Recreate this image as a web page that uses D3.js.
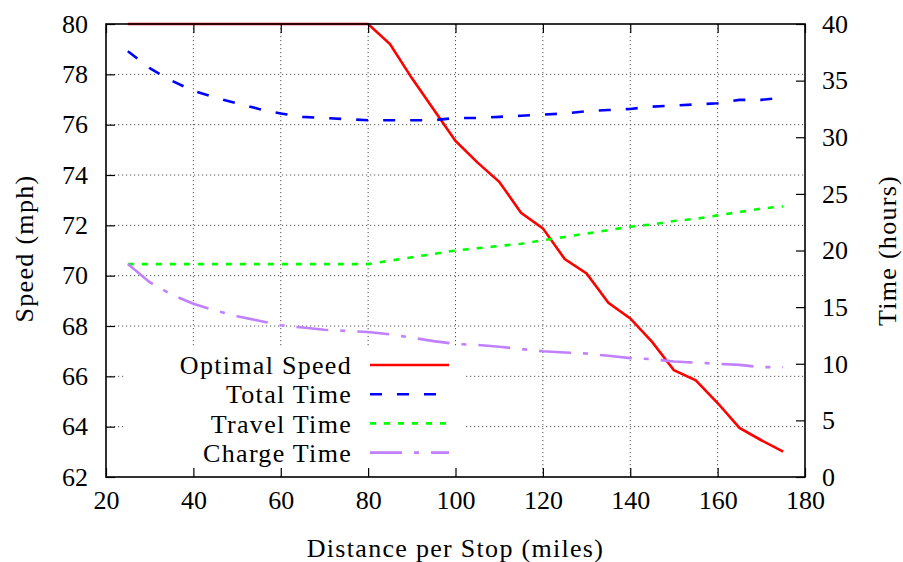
<!DOCTYPE html>
<html>
<head>
<meta charset="utf-8">
<script src="https://d3js.org/d3.v7.min.js"></script>
<style>
  body { margin: 0; background: #fff; }
  svg text { font-family: "Liberation Serif", "Times New Roman", "DejaVu Serif", serif; }
  .wide { letter-spacing: 1.3px; }
</style>
</head>
<body>
<div id="chart"></div>
<script>
// distance per stop (miles)
const distance = [25, 30, 35, 40, 45, 50, 55, 60, 65, 70, 75, 80, 85, 90, 95, 100,
  105, 110, 115, 120, 125, 130, 135, 140, 145, 150, 155, 160, 165, 170, 175];
// left axis, mph
const optimalSpeed = [80, 80, 80, 80, 80, 80, 80, 80, 80, 80, 80, 80, 79.2, 77.85, 76.6, 75.35,
  74.5, 73.73, 72.5, 71.88, 70.66, 70.09, 68.92, 68.3, 67.37, 66.24, 65.84, 64.94, 63.95, 63.46, 63.01];
// right axis, hours
const totalTime = [37.6, 36.1, 35.0, 34.1, 33.5, 33.0, 32.5, 32.1, 31.8, 31.7, 31.6, 31.5, 31.5, 31.5, 31.5, 31.7,
  31.7, 31.8, 31.9, 32.0, 32.1, 32.3, 32.4, 32.5, 32.7, 32.8, 32.9, 33.0, 33.3, 33.3, 33.5];
const travelTime = [18.8, 18.8, 18.8, 18.8, 18.8, 18.8, 18.8, 18.8, 18.8, 18.8, 18.8, 18.8, 19.1, 19.4, 19.7, 20.0,
  20.2, 20.4, 20.6, 20.9, 21.2, 21.5, 21.8, 22.1, 22.3, 22.6, 22.8, 23.1, 23.4, 23.7, 23.9];
const chargeTime = [18.8, 17.2, 16.1, 15.3, 14.7, 14.2, 13.8, 13.4, 13.2, 13.0, 12.9, 12.8, 12.6, 12.3, 12.0, 11.75,
  11.66, 11.5, 11.3, 11.1, 11.0, 10.9, 10.7, 10.5, 10.4, 10.2, 10.1, 10.0, 9.9, 9.7, 9.7];

const xTicks = [20, 40, 60, 80, 100, 120, 140, 160, 180];
const speedTicks = [62, 64, 66, 68, 70, 72, 74, 76, 78, 80];
const timeTicks = [0, 5, 10, 15, 20, 25, 30, 35, 40];

const legendNames = ["Optimal Speed", "Total Time", "Travel Time", "Charge Time"];

const W = 903, H = 562;
const margin = { top: 24, right: 98, bottom: 85, left: 106 };
const width = W - margin.left - margin.right;
const height = H - margin.top - margin.bottom;

const svg = d3.select("#chart").append("svg")
  .attr("width", W).attr("height", H);
const g = svg.append("g").attr("transform", `translate(${margin.left},${margin.top})`);

const x = d3.scaleLinear().domain([20, 180]).range([0, width]);
const ySpeed = d3.scaleLinear().domain([62, 80]).range([height, 0]);
const yTime = d3.scaleLinear().domain([0, 40]).range([height, 0]);

// grid
const gridStyle = sel => sel.attr("stroke", "#555").attr("stroke-width", 1).attr("stroke-dasharray", "1.2,2.8");
g.selectAll(".vgrid").data(xTicks.slice(1, -1)).enter().append("line")
  .attr("x1", d => x(d)).attr("x2", d => x(d)).attr("y1", 0).attr("y2", height)
  .call(gridStyle);
g.selectAll(".hgrid").data(speedTicks.slice(1, -1)).enter().append("line")
  .attr("x1", 0).attr("x2", width).attr("y1", d => ySpeed(d)).attr("y2", d => ySpeed(d))
  .call(gridStyle);

// opaque legend box
g.append("rect").attr("x", 19).attr("y", 324).attr("width", 341).attr("height", height - 325)
  .attr("fill", "#fff");

const series = [
  { name: legendNames[0], vals: optimalSpeed, y: ySpeed, color: "#ff0000", dash: null },
  { name: legendNames[1], vals: totalTime, y: yTime, color: "#0000ff", dash: "12,15" },
  { name: legendNames[2], vals: travelTime, y: yTime, color: "#00ff00", dash: "6,8" },
  { name: legendNames[3], vals: chargeTime, y: yTime, color: "#c080ff", dash: "32,12,5,12" }
];

series.forEach(s => {
  const line = d3.line().x((d, i) => x(distance[i])).y(d => s.y(d));
  g.append("path").datum(s.vals)
    .attr("fill", "none").attr("stroke", s.color).attr("stroke-width", 2.6)
    .attr("stroke-dasharray", s.dash)
    .attr("d", line);
});

// axes with inward ticks
const tickLen = 9;
const bottomAxis = g.append("g").attr("transform", `translate(0,${height})`)
  .call(d3.axisBottom(x).tickValues(xTicks).tickSizeInner(-tickLen).tickSizeOuter(0).tickPadding(14));
const topAxis = g.append("g")
  .call(d3.axisTop(x).tickValues(xTicks).tickSizeInner(-tickLen).tickSizeOuter(0).tickFormat(""));
const leftAxis = g.append("g")
  .call(d3.axisLeft(ySpeed).tickValues(speedTicks).tickSizeInner(-tickLen).tickSizeOuter(0).tickPadding(18));
const rightAxis = g.append("g").attr("transform", `translate(${width},0)`)
  .call(d3.axisRight(yTime).tickValues(timeTicks).tickSizeInner(-tickLen).tickSizeOuter(0).tickPadding(17));

[bottomAxis, topAxis, leftAxis, rightAxis].forEach(a => {
  a.attr("font-family", null);
  a.select(".domain").remove();
  a.selectAll(".tick line").attr("stroke", "#000").attr("stroke-width", 1.2);
  a.selectAll(".tick text").attr("font-size", 26).attr("fill", "#000");
});

// frame
g.append("rect").attr("x", 0).attr("y", 0).attr("width", width).attr("height", height)
  .attr("fill", "none").attr("stroke", "#000").attr("stroke-width", 1.6);

// legend
const legend = g.append("g").attr("font-size", 26);
series.forEach((s, i) => {
  const ly = 341 + i * 29.2;
  legend.append("text").attr("class", "wide").attr("x", 246).attr("y", ly).attr("dy", "0.35em")
    .attr("text-anchor", "end").text(s.name);
  legend.append("line").attr("x1", 264).attr("x2", 343).attr("y1", ly).attr("y2", ly)
    .attr("stroke", s.color).attr("stroke-width", 2.6).attr("stroke-dasharray", s.dash);
});

// axis titles
svg.append("text").attr("class", "wide").attr("x", margin.left + width / 2).attr("y", 548).attr("dy", "0.35em")
  .attr("text-anchor", "middle").attr("font-size", 26).text("Distance per Stop (miles)");
svg.append("text").attr("class", "wide").attr("transform", `translate(24,${margin.top + height / 2 - 2}) rotate(-90)`)
  .attr("dy", "0.35em").attr("text-anchor", "middle").attr("font-size", 26).text("Speed (mph)");
svg.append("text").attr("class", "wide").attr("transform", `translate(887,${margin.top + height / 2}) rotate(-90)`)
  .attr("dy", "0.35em").attr("text-anchor", "middle").attr("font-size", 26).text("Time (hours)");
</script>
</body>
</html>
